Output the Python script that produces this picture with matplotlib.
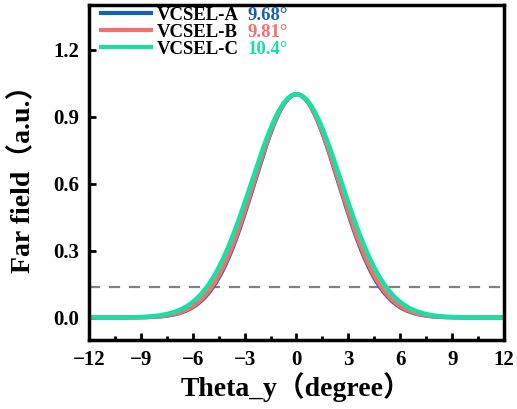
import numpy as np
import matplotlib
matplotlib.use('Agg')
import matplotlib.pyplot as plt
from matplotlib.ticker import MultipleLocator

plt.rcParams['font.family'] = ['Liberation Serif', 'Noto Sans CJK SC']
plt.rcParams['font.weight'] = 'bold'

# full divergence angle (1/e^2) of each device, degrees
names = ['VCSEL-A', 'VCSEL-B', 'VCSEL-C']
angles = [9.68, 9.81, 10.4]
angle_labels = ['9.68°', '9.81°', '10.4°']
colors = ['#1560b0', '#f2716e', '#18e0a4']
threshold = 0.135  # 1/e^2 level

theta = np.linspace(-12, 12, 481)

fig = plt.figure(figsize=(5.17, 4.09), dpi=100)
ax = fig.add_axes([0.172, 0.169, 0.803, 0.819])

for name, a, c, lw in zip(names, angles, colors, [3.0, 3.0, 3.2]):
    w = a / 2
    ax.plot(theta, np.exp(-2 * theta**2 / w**2), color=c, lw=lw, label=name)

ax.axhline(threshold, color='#808080', lw=1.6, ls=(0, (5, 4)), zorder=0)

ax.set_xlim(-12, 12)
ax.set_ylim(-0.1, 1.4)
ax.xaxis.set_major_locator(MultipleLocator(3))
ax.xaxis.set_minor_locator(MultipleLocator(1.5))
ax.yaxis.set_major_locator(MultipleLocator(0.3))
ax.yaxis.set_major_formatter(plt.FuncFormatter(lambda v, p: f'{v:.1f}'))
ax.tick_params(which='both', direction='in', width=2, labelsize=15)
ax.tick_params(which='major', length=5, pad=7)
ax.tick_params(which='minor', length=3)
for s in ax.spines.values():
    s.set_linewidth(2.5)

ax.set_xlabel('Theta_y（degree）', fontsize=20, fontweight='bold', labelpad=2)
ax.set_ylabel('Far field（a.u.）', fontsize=20, fontweight='bold')
ax.yaxis.set_label_coords(-0.128, 0.5)

leg = ax.legend(loc='upper left', frameon=False, fontsize=13.5, handlelength=2.7,
                handletextpad=0.3, labelspacing=0.0, borderaxespad=0.0,
                bbox_to_anchor=(0.01, 1.018))
for line in leg.get_lines():
    line.set_linewidth(3)

# angle values next to each legend entry, same row, same colour
fig.canvas.draw()
inv = ax.transAxes.inverted()
for t, lab, c in zip(leg.get_texts(), angle_labels, colors):
    bb = t.get_window_extent()
    _, y = inv.transform((0, (bb.y0 + bb.y1) / 2))
    ax.text(0.383, y, lab, transform=ax.transAxes, color=c, fontsize=13.5,
            fontweight='bold', va='center', ha='left')

fig.savefig('out.png', dpi=100)
